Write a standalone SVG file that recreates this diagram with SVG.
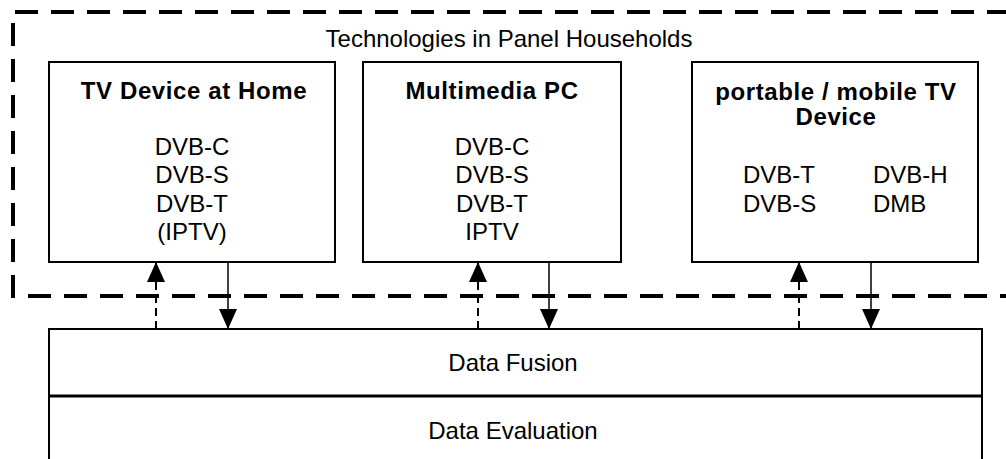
<svg xmlns="http://www.w3.org/2000/svg" width="1006" height="459" viewBox="0 0 1006 459">
<style>
text{font-family:"Liberation Sans",Arial,sans-serif;fill:#000;text-anchor:middle}
.t{font-size:24px}
.l{font-size:24px;text-anchor:start}
.b{font-size:24px;font-weight:bold;letter-spacing:0.6px}
.box{fill:#fff;stroke:#000;stroke-width:2}
.solid{stroke:#000;stroke-width:1.5;fill:none}
.dash{stroke:#000;stroke-width:2;fill:none;stroke-dasharray:8 5}
</style>
<defs>
<marker id="ah" viewBox="0 0 20 18" refX="20" refY="9" markerWidth="20" markerHeight="18" markerUnits="userSpaceOnUse" orient="auto">
<path d="M0,0 L20,9 L0,18 Z" fill="#000"/>
</marker>
</defs>
<rect width="1006" height="459" fill="#fff"/>
<g id="households">
<path d="M1010,12 H13 V296 H1010" fill="none" stroke="#000" stroke-width="4" stroke-dasharray="23 13"/>
<text class="t" x="509" y="47">Technologies in Panel Households</text>
</g>
<g id="tv">
<rect class="box" x="49" y="62" width="286" height="200"/>
<text class="b" x="194" y="99">TV Device at Home</text>
<text class="t" x="192" y="155">DVB-C</text>
<text class="t" x="192" y="183.3">DVB-S</text>
<text class="t" x="192" y="211.6">DVB-T</text>
<text class="t" x="192" y="240">(IPTV)</text>
</g>
<g id="pc">
<rect class="box" x="363" y="62" width="258" height="200"/>
<text class="b" x="492" y="99">Multimedia PC</text>
<text class="t" x="492" y="155">DVB-C</text>
<text class="t" x="492" y="183.3">DVB-S</text>
<text class="t" x="492" y="211.6">DVB-T</text>
<text class="t" x="492" y="240">IPTV</text>
</g>
<g id="mobile">
<rect class="box" x="692" y="62" width="286" height="200"/>
<text class="b" x="836" y="100">portable / mobile TV</text>
<text class="b" x="836" y="125">Device</text>
<text class="l" x="743" y="183.3">DVB-T</text>
<text class="l" x="743" y="211.6">DVB-S</text>
<text class="l" x="873" y="183.3">DVB-H</text>
<text class="l" x="873" y="211.6">DMB</text>
</g>
<g id="fusion">
<rect class="box" x="49" y="329" width="933" height="67"/>
<text class="t" x="513" y="371">Data Fusion</text>
</g>
<g id="evaluation">
<rect class="box" x="49" y="396" width="933" height="70"/>
<line x1="49" y1="396" x2="982" y2="396" stroke="#000" stroke-width="3"/>
<text class="t" x="513" y="439">Data Evaluation</text>
</g>
<g id="connectors">
<line class="dash" x1="156" y1="329" x2="156" y2="262" marker-end="url(#ah)"/>
<line class="solid" x1="228" y1="262" x2="228" y2="329" marker-end="url(#ah)"/>
<line class="dash" x1="478" y1="329" x2="478" y2="262" marker-end="url(#ah)"/>
<line class="solid" x1="549" y1="262" x2="549" y2="329" marker-end="url(#ah)"/>
<line class="dash" x1="799" y1="329" x2="799" y2="262" marker-end="url(#ah)"/>
<line class="solid" x1="871" y1="262" x2="871" y2="329" marker-end="url(#ah)"/>
</g>
</svg>
